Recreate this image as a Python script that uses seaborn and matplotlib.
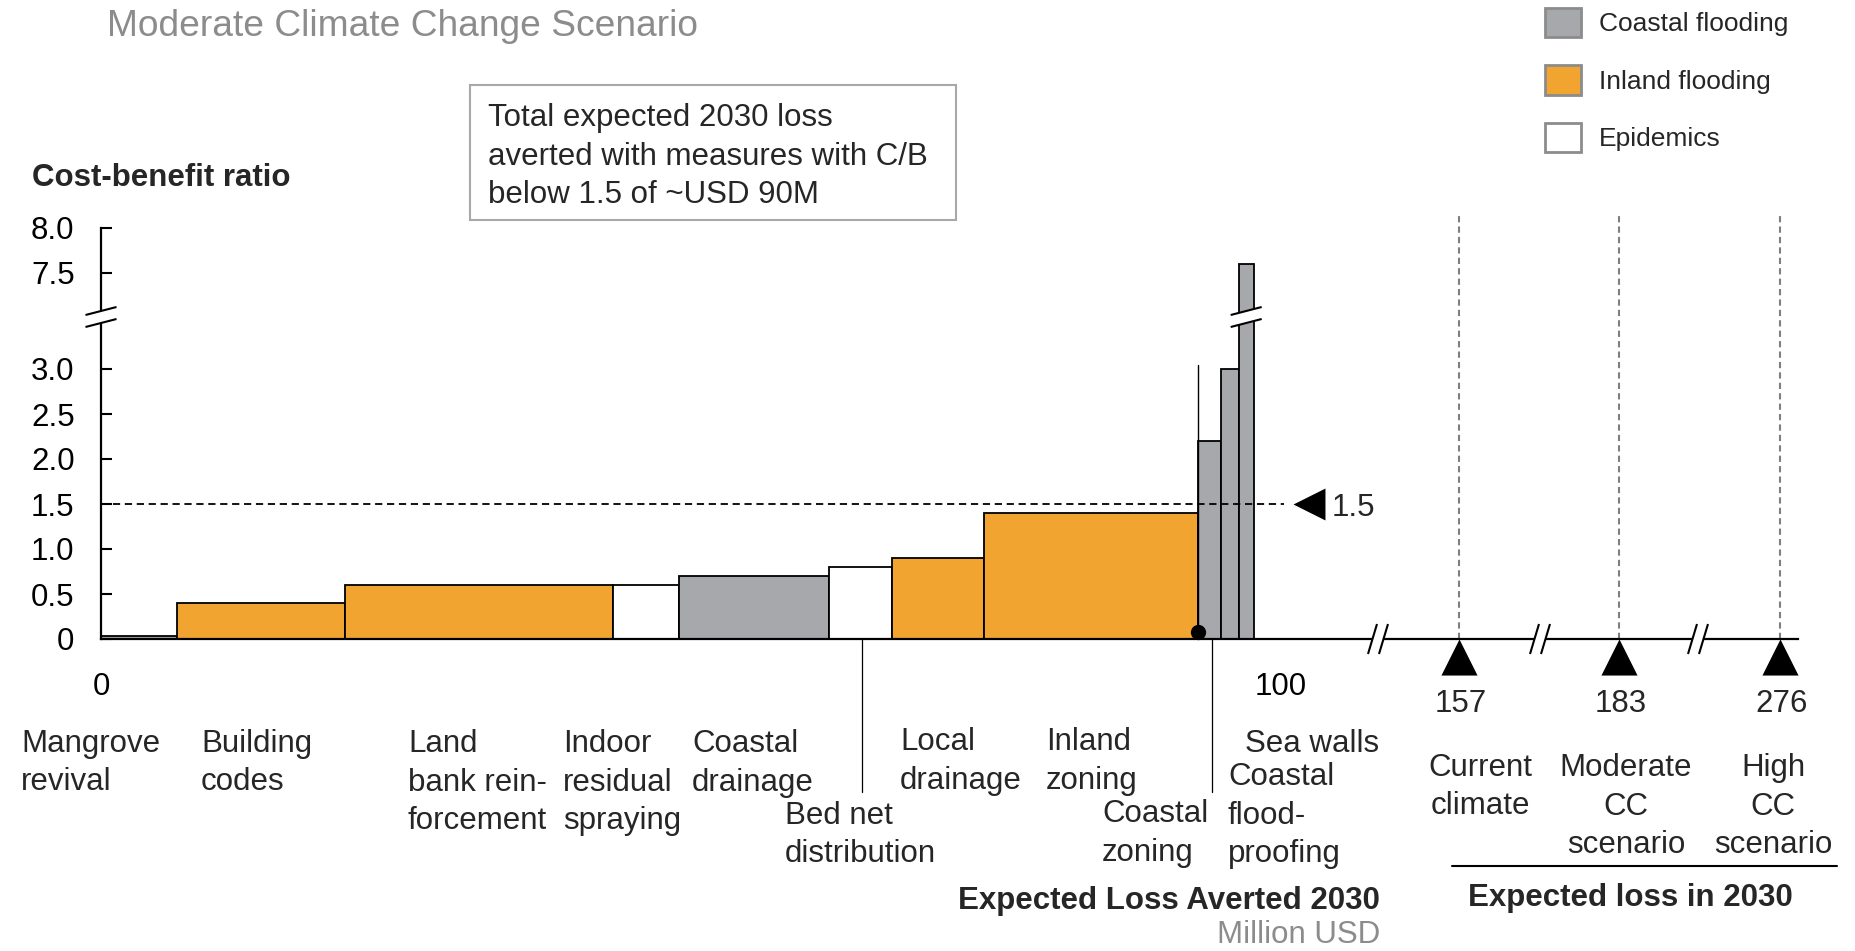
import numpy as np
import pandas as pd
import matplotlib.pyplot as plt
import seaborn as sns
from matplotlib.patches import Rectangle, Patch, Polygon

# --- data ---
measures = ['Mangrove\nrevival', 'Building\ncodes', 'Land\nbank rein-\nforcement',
            'Indoor\nresidual\nspraying', 'Coastal\ndrainage', 'Bed net\ndistribution',
            'Local\ndrainage', 'Inland\nzoning', 'Coastal\nzoning',
            'Coastal\nflood-\nproofing', 'Sea walls']
hazard = ['Coastal flooding', 'Inland flooding', 'Inland flooding', 'Epidemics',
          'Coastal flooding', 'Epidemics', 'Inland flooding', 'Inland flooding',
          'Coastal flooding', 'Coastal flooding', 'Coastal flooding']
loss_averted = [6.4, 14.3, 22.7, 5.6, 12.7, 5.3, 7.8, 18.2, 1.9, 1.5, 1.3]   # Million USD (bar width)
cb_ratio = [0.03, 0.4, 0.6, 0.6, 0.7, 0.8, 0.9, 1.4, 2.2, 3.0, 7.6]

threshold = 1.5
cutoff_stem = 3.05          # thin line rising from the cut-off point

scenario_names = ['Current\nclimate', 'Moderate\nCC\nscenario', 'High\nCC\nscenario']
scenario_loss = [157, 183, 276]

y_tick_values = [0, 0.5, 1.0, 1.5, 2.0, 2.5, 3.0, 7.5, 8.0]
y_tick_labels = ['0', '0.5', '1.0', '1.5', '2.0', '2.5', '3.0', '7.5', '8.0']
x_tick_values = [0, 100]

legend_names = ['Coastal flooding', 'Inland flooding', 'Epidemics']
colors = {'Coastal flooding': '#a7a8ac', 'Inland flooding': '#f2a431', 'Epidemics': '#ffffff'}

# --- layout (pixel positions on the 1856x951 canvas) ---
W, H = 1856, 951
X0, Y0 = 101, 639          # pixel of data origin
PX, PY = 11.8, 90.0        # pixels per unit
BREAK_OFFSET = 3.433       # y values above the break are shifted down by this
LINE = 38.5                # line pitch of wrapped labels, px
LS = 1.36


def X(px):
    return (px - X0) / PX


def Y(py):
    return (Y0 - py) / PY


def yc(v):
    return v - BREAK_OFFSET if v > 3.3 else v


def put(px, base_py, txt, **kw):
    # place text by the baseline of its first line
    n = txt.count('\n')
    return ax.text(X(px), Y(base_py + n * LINE), txt, va='baseline', linespacing=LS, **kw)


label_left_px = [21, 201, 408, 563, 692, 785, 900, 1046, 1102, 1228, 1245]
label_base_py = [752, 752, 752, 752, 752, 824, 750, 750, 822, 785, 752]
scenario_px = [1459, 1619, 1780]
scenario_label_px = [1480, 1626, 1773]
axis_break_px = [1378, 1540, 1698]
leader_px = [862, 1212]

sns.set_theme(style='white')
plt.rcParams['font.family'] = ['Liberation Sans', 'DejaVu Sans']
FS = 22.5

fig = plt.figure(figsize=(W / 100, H / 100), dpi=100)
ax = fig.add_axes([0, 0, 1, 1])
ax.set_xlim(X(0), X(W))
ax.set_ylim(Y(H), Y(0))
ax.set_facecolor('white')

# --- bars ---
df = pd.DataFrame({'measure': measures, 'hazard': hazard,
                   'width': loss_averted, 'ratio': cb_ratio})
df['left'] = df['width'].cumsum() - df['width']
df['height'] = df['ratio'].apply(yc)
ax.bar(df['left'], df['height'], width=df['width'], align='edge',
       color=[colors[h] for h in df['hazard']], edgecolor='black',
       linewidth=1.3, zorder=3)

# --- spines & ticks ---
for s in ['top', 'right']:
    ax.spines[s].set_visible(False)
ax.spines['left'].set_position(('data', 0))
ax.spines['bottom'].set_position(('data', 0))
ax.spines['left'].set_bounds(0, yc(8.0))
ax.spines['bottom'].set_bounds(0, X(1798))
for s in ['left', 'bottom']:
    ax.spines[s].set_linewidth(1.6)
    ax.spines[s].set_color('black')
    ax.spines[s].set_zorder(4)
ax.set_yticks([yc(v) for v in y_tick_values])
ax.set_yticklabels(y_tick_labels)
ax.set_xticks(x_tick_values)
ax.set_xticklabels([str(v) for v in x_tick_values])
ax.tick_params(axis='y', direction='in', length=8, width=1.5, pad=19,
               labelsize=FS, left=True, colors='black')
ax.tick_params(axis='x', length=0, pad=24, labelsize=FS, colors='black')
ax.grid(False)


def slash_break(xc, yc_, w, rise, gap, vertical_gap=True):
    # two parallel slashes with white between them
    if vertical_gap:
        p1 = [(xc - w / 2, yc_ - rise / 2 + gap / 2), (xc + w / 2, yc_ + rise / 2 + gap / 2)]
        p2 = [(xc - w / 2, yc_ - rise / 2 - gap / 2), (xc + w / 2, yc_ + rise / 2 - gap / 2)]
    else:
        p1 = [(xc - w / 2 - gap / 2, yc_ - rise / 2), (xc + w / 2 - gap / 2, yc_ + rise / 2)]
        p2 = [(xc - w / 2 + gap / 2, yc_ - rise / 2), (xc + w / 2 + gap / 2, yc_ + rise / 2)]
    ax.add_patch(Polygon([p1[0], p1[1], p2[1], p2[0]], closed=True,
                         facecolor='white', edgecolor='none', zorder=6))
    for p in (p1, p2):
        ax.plot([p[0][0], p[1][0]], [p[0][1], p[1][1]], color='black', lw=1.5, zorder=7,
                solid_capstyle='butt')


# y-axis break and break on the tallest bar
yb = Y(317)
slash_break(0, yb, 31 / PX, 8 / PY, 12 / PY)
tall = df.iloc[-1]
slash_break(tall['left'] + tall['width'] / 2, yb, 31 / PX, 8 / PY, 12 / PY)
# x-axis breaks
for bx in axis_break_px:
    slash_break(X(bx), 0, 9 / PX, 30 / PY, 11 / PX, vertical_gap=False)

# threshold line and marker
ax.plot([0, X(1284)], [threshold, threshold], color='black', lw=1.3,
        ls=(0, (4, 2.6)), zorder=5)
sns.scatterplot(x=[X(1309)], y=[threshold], marker='<', s=23 ** 2, color='black',
                linewidth=0, ax=ax, legend=False, zorder=6)
ax.text(X(1332), threshold, f'{threshold}', fontsize=FS, va='center_baseline', ha='left')

# cut-off point (cumulative loss averted with C/B below threshold)
cut_x = df.loc[df['ratio'] < threshold, 'width'].sum()
ax.plot([cut_x, cut_x], [0, cutoff_stem], color='black', lw=1.0, zorder=4)
sns.scatterplot(x=[cut_x], y=[Y(632)], s=11 ** 2, color='black', linewidth=0,
                ax=ax, legend=False, zorder=8)

# leader lines between labels
for lx in leader_px:
    ax.plot([X(lx), X(lx)], [0, Y(792)], color='black', lw=0.9, zorder=2)

# measure labels
for name, lp, bp in zip(measures, label_left_px, label_base_py):
    put(lp, bp, name, fontsize=FS, ha='left')

# scenario markers on the broken axis
sc = pd.DataFrame({'x': [X(p) for p in scenario_px], 'y': Y(657), 'loss': scenario_loss})
for xv in sc['x']:
    ax.plot([xv, xv], [0, Y(215)], color='#7f7f7f', lw=1.5, ls=(0, (3, 2)), zorder=1)
sns.scatterplot(data=sc, x='x', y='y', marker='^', s=26 ** 2, color='black',
                linewidth=0, ax=ax, legend=False, zorder=6)
for xv, v in zip(sc['x'], sc['loss']):
    put((xv * PX + X0) + 2, 712, str(v), fontsize=FS, ha='center')
for lp, name in zip(scenario_label_px, scenario_names):
    put(lp, 776, name, fontsize=FS, ha='center', multialignment='center')
ax.plot([X(1452), X(1837)], [Y(866), Y(866)], color='black', lw=1.5)
ax.text(X(1630), Y(898), 'Expected loss in 2030', fontsize=FS, fontweight='bold',
        ha='center', va='center')

# axis titles
ax.text(X(1380), Y(901), 'Expected Loss Averted 2030', fontsize=FS, fontweight='bold',
        ha='right', va='center')
ax.text(X(1380), Y(935), 'Million USD', fontsize=FS, color='#8c8c8c',
        ha='right', va='center')
ax.text(X(32), Y(178), 'Cost-benefit ratio', fontsize=FS, fontweight='bold',
        ha='left', va='center')
ax.text(X(107), Y(27), 'Moderate Climate Change Scenario', fontsize=26.7,
        color='#8c8c8c', ha='left', va='center')
ax.set_xlabel('')
ax.set_ylabel('')

# annotation box
ax.add_patch(Rectangle((X(470), Y(220)), X(956) - X(470), Y(85) - Y(220),
                       fill=False, edgecolor='#a8a8a8', lw=1.5))
put(488, 126, 'Total expected 2030 loss\naverted with measures with C/B\nbelow 1.5 of ~USD 90M',
    fontsize=FS, ha='left')

# legend
LFS = 19
handles = [Patch(facecolor=colors[n], edgecolor='#8c8c8c', linewidth=2) for n in legend_names]
fig.legend(handles, legend_names, loc='upper left', bbox_to_anchor=(1545 / W, 1 - 8 / H),
           frameon=False, fontsize=LFS, handlelength=1.36, handleheight=1.33,
           handletextpad=0.68, labelspacing=1.06, borderaxespad=0, borderpad=0)

fig.savefig('out.png', dpi=100)
